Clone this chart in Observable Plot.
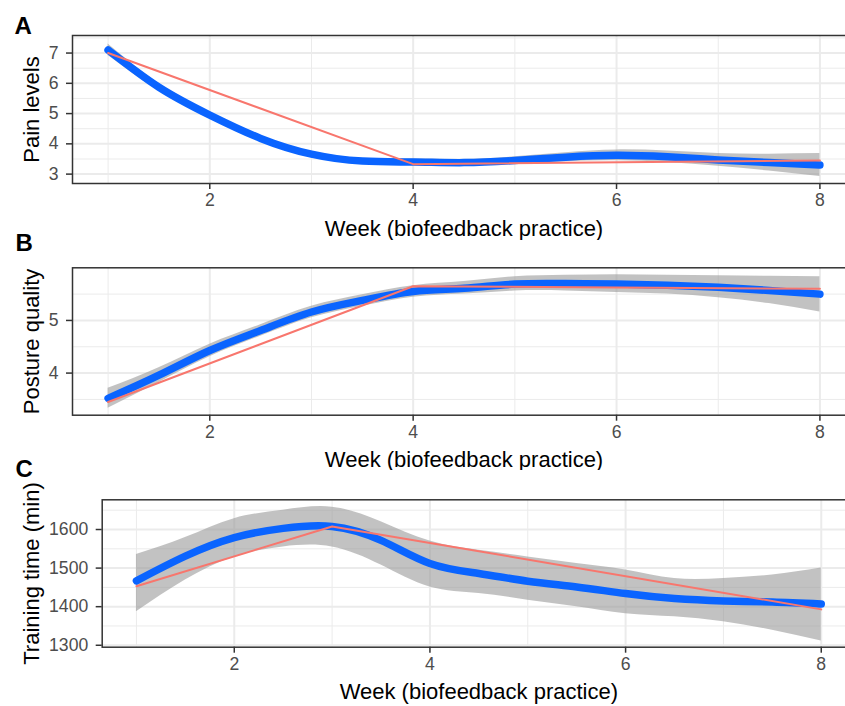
<!DOCTYPE html>
<html>
<head>
<meta charset="utf-8">
<script src="https://cdn.jsdelivr.net/npm/d3@7"></script>
<script src="https://cdn.jsdelivr.net/npm/@observablehq/plot@0.6"></script>
<style>
  html, body { margin: 0; padding: 0; background: #fff; }
  #wrap { position: relative; width: 845px; height: 706px; overflow: hidden; background: #fff; }
  .panel { position: absolute; left: 0; width: 860px; }
  #wrap svg { max-width: none !important; width: 860px; }
  #wrap svg g[aria-label="x-axis tick label"],
  #wrap svg g[aria-label="y-axis tick label"] { font-size: 17.6px !important; }
</style>
</head>
<body>
<div id="wrap">
  <div class="panel" id="pA" style="top:0px"></div>
  <div class="panel" id="pB" style="top:240px"></div>
  <div class="panel" id="pC" style="top:470px"></div>
</div>
<script>
// ---- Data ----
const weeks = [1, 1.5, 2, 2.5, 3, 3.5, 4, 4.5, 5, 5.5, 6, 6.5, 7, 7.5, 8];

// Panel A: Pain levels
const painFit = [7.10, 5.87, 4.95, 4.18, 3.66, 3.43, 3.40, 3.38, 3.45, 3.56, 3.62, 3.57, 3.47, 3.38, 3.30];
const painLo  = [6.92, 5.75, 4.85, 4.09, 3.57, 3.34, 3.30, 3.28, 3.33, 3.41, 3.44, 3.38, 3.26, 3.10, 2.92];
const painHi  = [7.30, 5.99, 5.05, 4.27, 3.75, 3.52, 3.50, 3.48, 3.57, 3.71, 3.80, 3.76, 3.68, 3.66, 3.68];
const painWeeks = [1, 4, 8];
const painMeans = [7.0, 3.33, 3.45];

// Panel B: Posture quality
const postFit = [3.52, 3.96, 4.43, 4.81, 5.16, 5.38, 5.55, 5.61, 5.69, 5.70, 5.69, 5.67, 5.63, 5.57, 5.50];
const postLo  = [3.33, 3.82, 4.31, 4.70, 5.05, 5.27, 5.44, 5.50, 5.56, 5.56, 5.53, 5.50, 5.43, 5.32, 5.16];
const postHi  = [3.71, 4.10, 4.55, 4.92, 5.27, 5.49, 5.66, 5.74, 5.83, 5.86, 5.87, 5.86, 5.85, 5.84, 5.83];
const postWeeks = [1, 4, 8];
const postMeans = [3.45, 5.65, 5.60];

// Panel C: Training time (min)
const trainFit = [1467, 1531, 1579, 1603, 1608, 1572, 1512, 1486, 1466, 1451, 1434, 1421, 1415, 1412, 1407];
const trainLo  = [1387, 1469, 1529, 1555, 1555, 1508, 1451, 1434, 1417, 1400, 1382, 1374, 1361, 1339, 1311];
const trainHi  = [1535, 1579, 1628, 1650, 1658, 1620, 1570, 1546, 1529, 1512, 1495, 1473, 1473, 1482, 1500];
const trainWeeks = [1, 3, 8];
const trainMeans = [1453, 1608, 1393];

// Ticks / labels
const xMajor = [2, 4, 6, 8];
const xMinor = [1, 3, 5, 7];
const xTitle = "Week (biofeedback practice)";

const FONT = "'Liberation Sans', Arial, Helvetica, sans-serif";

function panel({fit, lo, hi, rawX, rawY, yDomain, yMajor, yMinor, yTitle, letter,
                height, marginTop, marginBottom, marginLeft, yTitleDx, letterDx, letterDy}) {
  const smooth = weeks.map((w, i) => ({week: w, fit: fit[i], lo: lo[i], hi: hi[i]}));
  const raw = rawX.map((w, i) => ({week: w, value: rawY[i]}));
  return Plot.plot({
    width: 860,
    height,
    marginTop,
    marginBottom,
    marginLeft,
    marginRight: 5,
    x: {domain: [0.65, 8.35], label: null},
    y: {domain: yDomain, label: null},
    style: {fontFamily: FONT, background: "white", overflow: "visible", maxWidth: "none"},
    marks: [
      Plot.gridX(xMinor, {stroke: "#EBEBEB", strokeOpacity: 1, strokeWidth: 1}),
      Plot.gridY(yMinor, {stroke: "#EBEBEB", strokeOpacity: 1, strokeWidth: 1}),
      Plot.gridX(xMajor, {stroke: "#EBEBEB", strokeOpacity: 1, strokeWidth: 2}),
      Plot.gridY(yMajor, {stroke: "#EBEBEB", strokeOpacity: 1, strokeWidth: 2}),
      Plot.areaY(smooth, {x: "week", y1: "lo", y2: "hi", fill: "#999999", fillOpacity: 0.6, curve: "natural"}),
      Plot.line(smooth, {x: "week", y: "fit", stroke: "#0A64FF", strokeWidth: 7.5, curve: "natural"}),
      Plot.line(raw, {x: "week", y: "value", stroke: "#F8766D", strokeWidth: 2}),
      Plot.frame({stroke: "#333333", strokeWidth: 1.5}),
      Plot.axisX(xMajor, {anchor: "bottom", tickSize: 6, tickPadding: 4, fontSize: 17.6,
                          tickFormat: d => String(d),
                          stroke: "#333333", strokeWidth: 1.5, fill: "#4D4D4D", label: null}),
      Plot.axisY(yMajor, {anchor: "left", tickSize: 6, tickPadding: 8, fontSize: 17.6,
                          tickFormat: d => String(d),
                          stroke: "#333333", strokeWidth: 1.5, fill: "#4D4D4D", label: null}),
      Plot.text([xTitle], {text: d => d, frameAnchor: "bottom", textAnchor: "middle", lineAnchor: "bottom", dy: 52,
                           fontSize: 22, fill: "black"}),
      Plot.text([yTitle], {text: d => d, frameAnchor: "left", textAnchor: "middle", rotate: -90, dx: yTitleDx,
                           lineAnchor: "middle", fontSize: 22, fill: "black"}),
      Plot.text([letter], {text: d => d, frameAnchor: "top-left", textAnchor: "start", lineAnchor: "bottom",
                           dx: letterDx, dy: letterDy, fontSize: 24, fontWeight: "bold", fill: "black"})
    ]
  });
}

document.getElementById("pA").appendChild(panel({
  fit: painFit, lo: painLo, hi: painHi, rawX: painWeeks, rawY: painMeans,
  yDomain: [2.69, 7.58], yMajor: [3, 4, 5, 6, 7], yMinor: [3.5, 4.5, 5.5, 6.5, 7.5],
  yTitle: "Pain levels", letter: "A",
  height: 240, marginTop: 35, marginBottom: 57, marginLeft: 72,
  yTitleDx: -41, letterDx: -58, letterDy: -2
}));

document.getElementById("pB").appendChild(panel({
  fit: postFit, lo: postLo, hi: postHi, rawX: postWeeks, rawY: postMeans,
  yDomain: [3.2, 6.0], yMajor: [4, 5], yMinor: [3.5, 4.5, 5.5],
  yTitle: "Posture quality", letter: "B",
  height: 230, marginTop: 27.3, marginBottom: 55.3, marginLeft: 72,
  yTitleDx: -41, letterDx: -57, letterDy: -17.3
}));

document.getElementById("pC").appendChild(panel({
  fit: trainFit, lo: trainLo, hi: trainHi, rawX: trainWeeks, rawY: trainMeans,
  yDomain: [1295, 1677], yMajor: [1300, 1400, 1500, 1600], yMinor: [1350, 1450, 1550, 1650],
  yTitle: "Training time (min)", letter: "C",
  height: 236, marginTop: 29.3, marginBottom: 59.3, marginLeft: 101.7,
  yTitleDx: -70, letterDx: -86.7, letterDy: -23.3
}));
</script>
</body>
</html>
